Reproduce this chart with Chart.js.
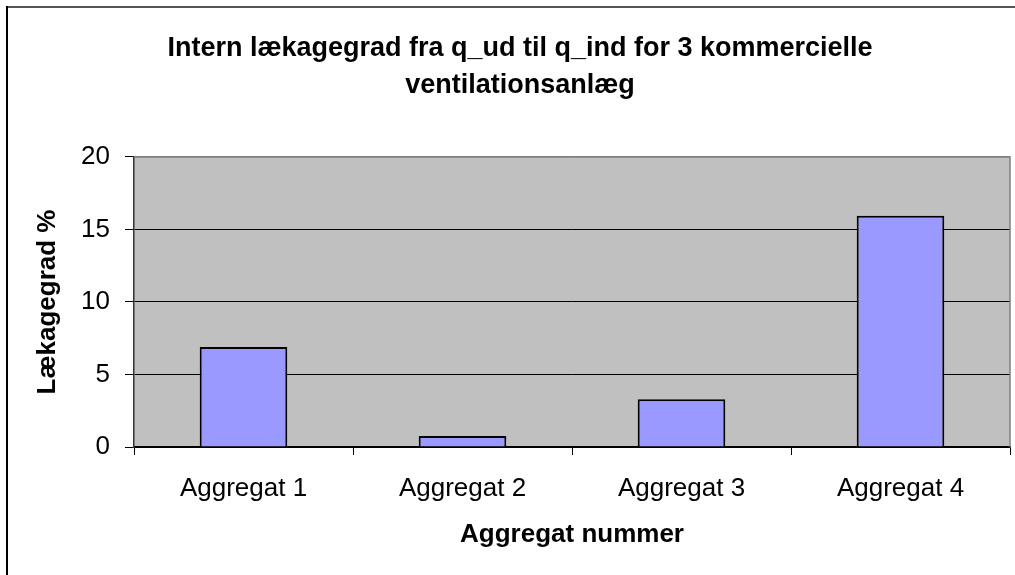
<!DOCTYPE html>
<html>
<head>
<meta charset="utf-8">
<script src="https://cdn.jsdelivr.net/npm/chart.js@4/dist/chart.umd.min.js"></script>
<style>
  html, body { margin: 0; padding: 0; background: #fff; }
  #wrap { width: 1015px; height: 575px; }
</style>
</head>
<body>
<div id="wrap"><canvas id="leakChart" width="1015" height="575"></canvas></div>
<script>
const categories = ["Aggregat 1", "Aggregat 2", "Aggregat 3", "Aggregat 4"];
const leakValues = [6.9, 0.75, 3.3, 15.95];
const yTicks = [0, 5, 10, 15, 20];

const titleLines = ["Intern lækagegrad fra q_ud til q_ind for 3 kommercielle", "ventilationsanlæg"];
const xTitle = "Aggregat nummer";
const yTitle = "Lækagegrad %";

const FONT = "'Liberation Sans', Arial, sans-serif";

// grey plot area, grey top/right frame, outer frame lines
const plotFrame = {
  id: "plotFrame",
  beforeDraw(chart) {
    const { ctx, chartArea: a } = chart;
    ctx.save();
    ctx.fillStyle = "#C0C0C0";
    ctx.fillRect(a.left, a.top, a.right - a.left, a.bottom - a.top);

    ctx.lineWidth = 2;
    ctx.strokeStyle = "#555";
    ctx.beginPath();
    ctx.moveTo(6, 7);
    ctx.lineTo(1015, 7);
    ctx.stroke();
    ctx.strokeStyle = "#000";
    ctx.beginPath();
    ctx.moveTo(7, 6);
    ctx.lineTo(7, 575);
    ctx.stroke();
    ctx.restore();
  },
  afterDatasetsDraw(chart) {
    const { ctx, chartArea: a } = chart;
    ctx.save();
    ctx.strokeStyle = "#808080";
    ctx.lineWidth = 1.5;
    ctx.beginPath();
    ctx.moveTo(a.left, a.top);
    ctx.lineTo(a.right, a.top);
    ctx.lineTo(a.right, a.bottom);
    ctx.stroke();
    ctx.restore();
  }
};

new Chart(document.getElementById("leakChart").getContext("2d"), {
  type: "bar",
  data: {
    labels: categories,
    datasets: [{
      label: yTitle,
      data: leakValues,
      backgroundColor: "#9999FF",
      borderColor: "#000",
      borderWidth: 2,
      categoryPercentage: 0.4,
      barPercentage: 1
    }]
  },
  options: {
    responsive: false,
    animation: false,
    layout: { padding: { left: 30, right: 5, top: 4, bottom: 4 } },
    plugins: {
      legend: { display: false },
      tooltip: { enabled: false },
      title: {
        display: true,
        text: titleLines,
        color: "#000",
        font: { family: FONT, size: 27, weight: "bold", lineHeight: 1.37 },
        padding: { top: 26, bottom: 53 }
      }
    },
    scales: {
      x: {
        afterFit(scale) { scale.height = 124; },
        grid: {
          offset: true,
          drawOnChartArea: false,
          drawTicks: true,
          tickLength: 8,
          tickColor: "#000"
        },
        border: { color: "#000", width: 1.5 },
        ticks: {
          color: "#000",
          padding: 18,
          font: { family: FONT, size: 26 }
        },
        title: {
          display: true,
          text: xTitle,
          color: "#000",
          font: { family: FONT, size: 26, weight: "bold" },
          padding: { top: 0, bottom: 21 }
        }
      },
      y: {
        min: 0,
        max: 20,
        afterFit(scale) { scale.width = 104; },
        afterBuildTicks(scale) { scale.ticks = yTicks.map(v => ({ value: v })); },
        grid: {
          color: ctx => (ctx.tick && ctx.tick.value === 20 ? "#808080" : "#000"),
          lineWidth: 1,
          tickLength: 9,
          tickColor: "#000"
        },
        border: { color: "#333", width: 1.5 },
        ticks: {
          color: "#000",
          padding: 15,
          font: { family: FONT, size: 26 }
        },
        title: {
          display: true,
          text: yTitle,
          color: "#000",
          font: { family: FONT, size: 26, weight: "bold" },
          padding: { top: 2, bottom: 0 }
        }
      }
    }
  },
  plugins: [plotFrame]
});
</script>
</body>
</html>
